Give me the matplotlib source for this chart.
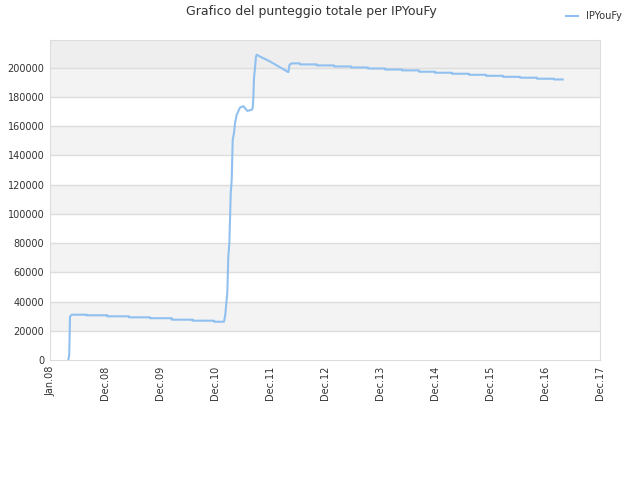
import matplotlib
matplotlib.use("Agg")
import matplotlib.pyplot as plt
import numpy as np

# time in years since Jan.08, total score
t_years = [0.333, 0.349, 0.364, 0.395, 0.667, 1.042, 1.436, 1.818, 2.213, 2.595, 2.982,
           3.164, 3.187, 3.200, 3.224, 3.242, 3.261, 3.286, 3.303, 3.309, 3.322, 3.345, 3.364,
           3.394, 3.455, 3.515, 3.545, 3.587, 3.667, 3.685, 3.697, 3.709, 3.727, 3.745, 3.758,
           3.818, 4.000, 4.333, 4.355, 4.394, 4.545, 4.849, 5.164, 5.473, 5.782,
           6.091, 6.400, 6.709, 7.000, 7.309, 7.618, 7.927, 8.236, 8.545, 8.855, 9.164, 9.322]
scores = [0, 3400, 29700, 31000, 30600, 29900, 29200, 28600, 27600, 26900, 26200,
          26200, 30800, 36500, 46000, 70700, 80000, 114000, 123000, 131000, 150700, 155300, 162000,
          167800, 172800, 173700, 172400, 170500, 171200, 172400, 179200, 193000, 199800, 207700, 208900,
          207700, 204300, 197000, 202000, 203000, 202300, 201600, 200900, 200200, 199500,
          198800, 198200, 197300, 196600, 195900, 195200, 194500, 193800, 193200, 192500, 192000, 192000]
# True: value held until next point (step); False: straight change to next point
held = [False, False, False, True, True, True, True, True, True, True, True,
        False, False, False, False, False, False, False, False, False, False, False, False,
        False, False, False, False, False, False, False, False, False, False, False, False,
        False, False, False, False, True, True, True, True, True, True,
        True, True, True, True, True, True, True, True, True, True, True]

tick_labels = ["Jan.08", "Dec.08", "Dec.09", "Dec.10", "Dec.11", "Dec.12",
               "Dec.13", "Dec.14", "Dec.15", "Dec.16", "Dec.17"]
y_ticks = list(range(0, 200001, 20000))
series_name = "IPYouFy"

fig = plt.figure(figsize=(6.4, 4.8), dpi=100)
ax = fig.add_axes([50/640, 120/480, 550/640, 320/480])

# alternating bands
for i, lo in enumerate(range(0, 220000, 20000)):
    if lo == 200000:
        c = "#eeeeee"
    elif i % 2 == 1:
        c = "#f3f3f3"
    else:
        c = "#ffffff"
    ax.axhspan(lo, lo + 20000, color=c, zorder=0, lw=0)
for v in y_ticks[1:]:
    ax.axhline(v, color="#dddddd", lw=1, zorder=1)

xs, ys = [t_years[0]], [scores[0]]
for i in range(1, len(t_years)):
    if held[i - 1]:
        xs.append(t_years[i]); ys.append(scores[i - 1])
    xs.append(t_years[i]); ys.append(scores[i])
ax.plot(xs, ys, color="#90c0f0", lw=1.5, zorder=3, label=series_name)

ax.set_xlim(0, 10)
ax.set_ylim(0, 219000)
ax.set_xticks(range(len(tick_labels)))
ax.set_xticklabels(tick_labels, rotation=90, fontsize=7, color="#333333")
ax.set_yticks(y_ticks)
ax.set_yticklabels([str(v) for v in y_ticks], fontsize=7, color="#333333")
ax.tick_params(length=0, pad=4)
for s in ax.spines.values():
    s.set_color("#dddddd")

fig.text(311/640, 1 - 12/480, "Grafico del punteggio totale per IPYouFy",
         ha="center", va="center", fontsize=9, color="#333333")
fig.legend(loc="upper right", bbox_to_anchor=(0.985, 0.995), frameon=False,
           fontsize=7, handlelength=1.2, labelcolor="#333333")

fig.savefig("out.png", dpi=100)
